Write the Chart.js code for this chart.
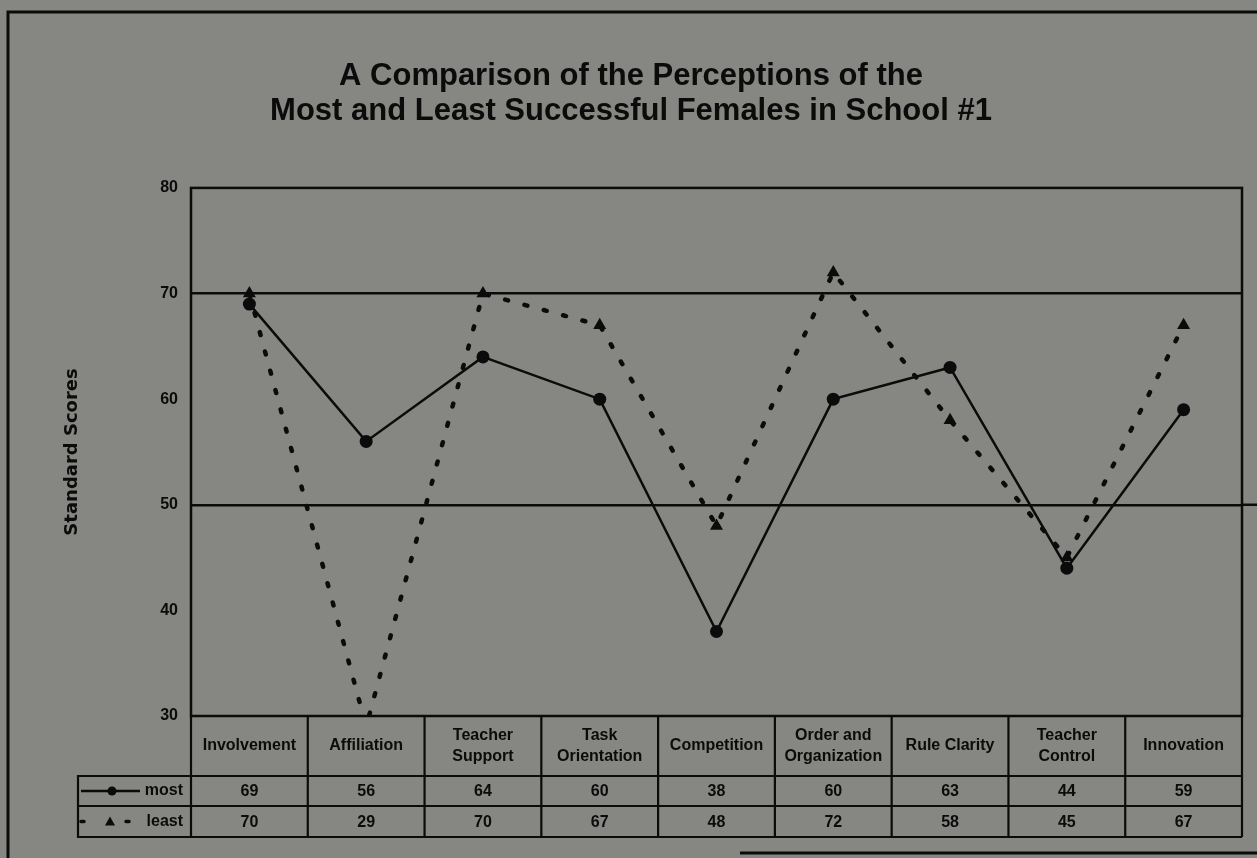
<!DOCTYPE html>
<html>
<head>
<meta charset="utf-8">
<script src="https://cdn.jsdelivr.net/npm/chart.js@4.4.1/dist/chart.umd.min.js"></script>
<style>
  html, body { margin: 0; padding: 0; background: #868683; }
  #wrap { width: 1257px; height: 858px; position: relative; }
</style>
</head>
<body>
<div id="wrap"><canvas id="c" width="1257" height="858"></canvas></div>
<script>
// Classroom environment scales (multi-line header text for the table)
const categories = [
  ['Involvement'], ['Affiliation'], ['Teacher', 'Support'], ['Task', 'Orientation'],
  ['Competition'], ['Order and', 'Organization'], ['Rule Clarity'], ['Teacher', 'Control'], ['Innovation']
];
const mostScores  = [69, 56, 64, 60, 38, 60, 63, 44, 59];
const leastScores = [70, 29, 70, 67, 48, 72, 58, 45, 67];
const seriesNames = ['most', 'least'];
const yTicks = [30, 40, 50, 60, 70, 80];
const referenceLines = [50, 70];
const titleLines = ['A Comparison of the Perceptions of the', 'Most and Least Successful Females in School #1'];
const yAxisTitle = 'Standard Scores';

const INK = '#0b0b0b';
const BG = '#868683';
const TABLE_FONT = 'bold 16px "Liberation Sans", Arial, sans-serif';

// Paints the page, the plot frame, the data table and the stray frame lines
const tablePlugin = {
  id: 'dataTable',
  beforeDraw(chart) {
    const { ctx, width, height } = chart;
    ctx.save();
    ctx.fillStyle = BG;
    ctx.fillRect(0, 0, width, height);
    ctx.restore();
  },
  afterDraw(chart) {
    const { ctx, chartArea: a, scales } = chart;
    const xs = scales.x, ys = scales.y;
    ctx.save();
    ctx.strokeStyle = INK;
    ctx.fillStyle = INK;

    // outer page frame
    ctx.lineWidth = 3;
    ctx.beginPath();
    ctx.moveTo(8, 858); ctx.lineTo(8, 12); ctx.lineTo(1257, 12);
    ctx.moveTo(740, 853); ctx.lineTo(1257, 853);
    ctx.stroke();

    // plot frame
    ctx.lineWidth = 2.5;
    ctx.strokeRect(a.left, a.top, a.right - a.left, a.bottom - a.top);

    // the 50 reference line runs on past the frame
    ctx.beginPath();
    ctx.moveTo(a.right, ys.getPixelForValue(referenceLines[0]));
    ctx.lineTo(1257, ys.getPixelForValue(referenceLines[0]));
    ctx.stroke();

    // table rows
    const rowTop = a.bottom;
    const headBottom = rowTop + 60;
    const mostBottom = headBottom + 30;
    const leastBottom = mostBottom + 31;
    const legendLeft = 78;
    const n = categories.length;
    const step = (a.right - a.left) / n;

    ctx.lineWidth = 2.2;
    ctx.beginPath();
    [headBottom, mostBottom, leastBottom].forEach(y => { ctx.moveTo(a.left, y); ctx.lineTo(a.right, y); });
    for (let i = 0; i <= n; i++) {
      const x = a.left + i * step;
      ctx.moveTo(x, rowTop); ctx.lineTo(x, leastBottom);
    }
    // legend cell
    ctx.moveTo(a.left, headBottom); ctx.lineTo(legendLeft, headBottom);
    ctx.lineTo(legendLeft, leastBottom); ctx.lineTo(a.left, leastBottom);
    ctx.moveTo(legendLeft, mostBottom); ctx.lineTo(a.left, mostBottom);
    ctx.stroke();

    // header text and values
    ctx.font = TABLE_FONT;
    ctx.textAlign = 'center';
    ctx.textBaseline = 'middle';
    const headMid = (rowTop + headBottom) / 2;
    const mostMid = (headBottom + mostBottom) / 2;
    const leastMid = (mostBottom + leastBottom) / 2;
    chart.data.labels.forEach((lines, i) => {
      const cx = xs.getPixelForValue(i);
      const lh = 21;
      const y0 = headMid - (lines.length - 1) * lh / 2;
      lines.forEach((t, k) => ctx.fillText(t, cx, y0 + k * lh));
      ctx.fillText(String(chart.data.datasets[0].data[i]), cx, mostMid + 1);
      ctx.fillText(String(chart.data.datasets[1].data[i]), cx, leastMid + 1);
    });

    // legend keys
    ctx.textAlign = 'right';
    ctx.fillText(chart.data.datasets[0].label, a.left - 8, mostMid);
    ctx.fillText(chart.data.datasets[1].label, a.left - 8, leastMid);

    ctx.lineWidth = 2.5;
    ctx.beginPath();
    ctx.moveTo(81, mostMid); ctx.lineTo(140, mostMid);
    ctx.stroke();
    ctx.beginPath();
    ctx.arc(112, mostMid, 4.5, 0, Math.PI * 2);
    ctx.fill();

    ctx.lineWidth = 3.5;
    ctx.lineCap = 'round';
    ctx.beginPath();
    ctx.moveTo(81, leastMid); ctx.lineTo(84, leastMid);
    ctx.moveTo(126, leastMid); ctx.lineTo(129, leastMid);
    ctx.stroke();
    ctx.beginPath();
    ctx.moveTo(110, leastMid - 5); ctx.lineTo(115, leastMid + 4); ctx.lineTo(105, leastMid + 4);
    ctx.closePath();
    ctx.fill();

    ctx.restore();
  }
};

new Chart(document.getElementById('c'), {
  type: 'line',
  data: {
    labels: categories,
    datasets: [
      {
        label: seriesNames[0],
        data: mostScores,
        borderColor: INK,
        backgroundColor: INK,
        borderWidth: 2.5,
        pointStyle: 'circle',
        pointRadius: 6.5,
        pointBackgroundColor: INK,
        pointBorderWidth: 0,
        tension: 0
      },
      {
        label: seriesNames[1],
        data: leastScores,
        borderColor: INK,
        backgroundColor: INK,
        borderWidth: 4.5,
        borderDash: [3, 17],
        borderCapStyle: 'round',
        pointStyle: 'triangle',
        pointRadius: 7.5,
        pointBackgroundColor: INK,
        pointBorderWidth: 0,
        tension: 0
      }
    ]
  },
  options: {
    responsive: false,
    animation: false,
    devicePixelRatio: 1,
    layout: { padding: { left: 20, right: 15, top: 0, bottom: 142 } },
    plugins: {
      legend: { display: false },
      tooltip: { enabled: false },
      title: {
        display: true,
        text: titleLines,
        color: INK,
        font: { family: '"Liberation Sans", Arial, sans-serif', size: 31, weight: 'bold', lineHeight: 1.16 },
        padding: { top: 58, bottom: 58 }
      }
    },
    scales: {
      x: {
        type: 'category',
        offset: true,
        display: false
      },
      y: {
        min: yTicks[0],
        max: yTicks[yTicks.length - 1],
        afterBuildTicks(scale) { scale.ticks = yTicks.map(v => ({ value: v })); },
        afterFit(scale) { scale.width = 171; },
        border: { display: false },
        grid: {
          drawTicks: false,
          lineWidth: 2.5,
          color: c => (c.tick && referenceLines.includes(c.tick.value)) ? INK : 'rgba(0,0,0,0)'
        },
        ticks: {
          color: INK,
          padding: 13,
          font: { family: '"Liberation Sans", Arial, sans-serif', size: 16, weight: 'bold' }
        },
        title: {
          display: true,
          text: yAxisTitle,
          color: INK,
          font: { family: '"DejaVu Sans", Verdana, sans-serif', size: 18, weight: 'bold', lineHeight: 1.2 },
          padding: { top: 42, bottom: 0 }
        }
      }
    }
  },
  plugins: [tablePlugin]
});
</script>
</body>
</html>
